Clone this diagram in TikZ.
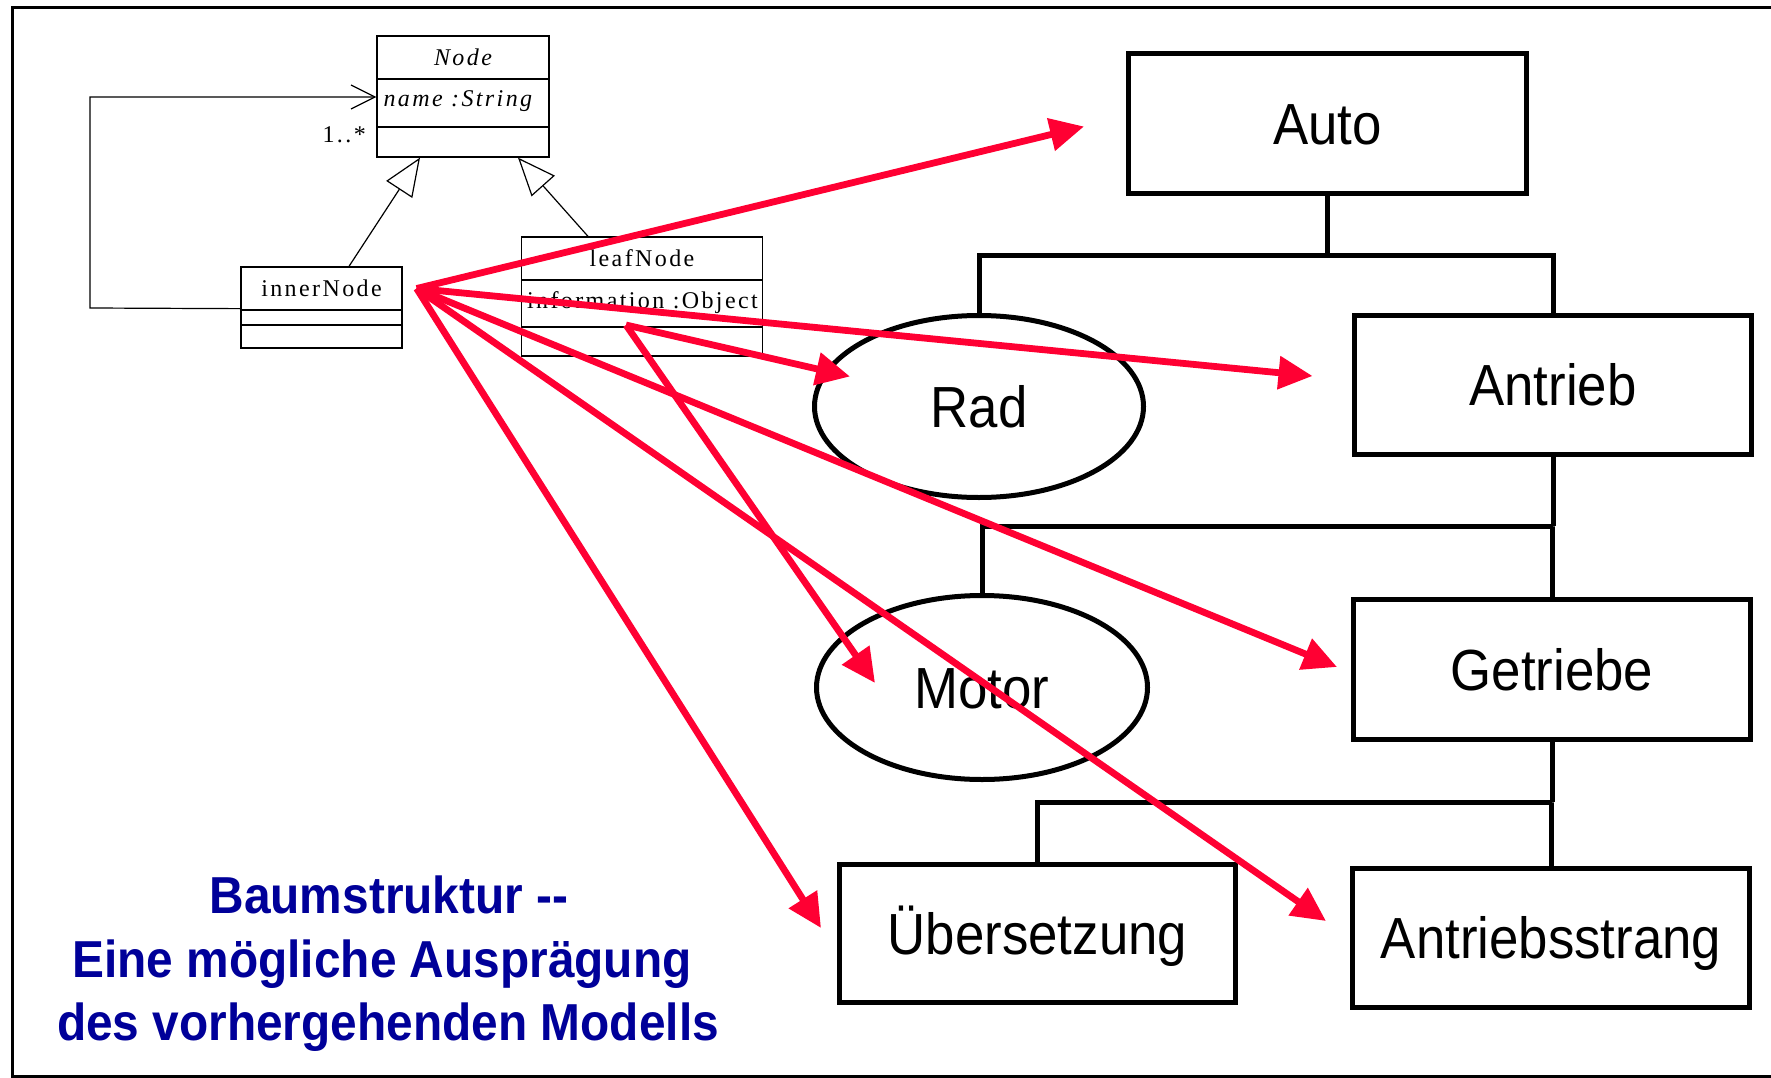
\documentclass[tikz,border=0pt]{standalone}
\usepackage{fontspec}
\setmainfont{Liberation Serif}
\newfontfamily\umlfont{Liberation Serif}[LetterSpace=10]
\newfontfamily\treefont{Liberation Sans}[FakeStretch=0.91]
\newfontfamily\titlefont{Liberation Sans}[FakeStretch=0.92]
\usetikzlibrary{arrows.meta,calc,shapes.geometric}
\definecolor{arrowred}{RGB}{255,0,51}
\definecolor{titleblue}{RGB}{0,0,153}

\begin{document}
\begin{tikzpicture}[x=1pt,y=-1pt,
  umlbox/.style={draw, line width=1.3pt, inner sep=0pt, minimum width=#1,
    font=\umlfont\fontsize{24}{28}\selectfont},
  umltext/.style={inner sep=0pt, font=\umlfont\fontsize{24}{28}\selectfont},
  genline/.style={draw, line width=1.2pt,
    -{Triangle[open, length=38pt, width=31pt, line width=1.2pt, fill=white]}},
  assocline/.style={draw, line width=1.2pt,
    -{Straight Barb[length=24pt, width=24pt, line width=1.2pt]}},
  treebox/.style={draw, line width=5pt, rectangle, inner sep=0pt,
    font=\treefont\fontsize{58}{60}\selectfont, text height=41.5pt, text depth=0pt},
  treeoval/.style={draw, line width=5pt, ellipse, inner sep=0pt,
    font=\treefont\fontsize{58}{60}\selectfont, text height=41.5pt, text depth=0pt},
  treeline/.style={draw, line width=5pt},
  redarrow/.style={draw=arrowred, line width=6.8pt,
    -{Triangle[length=34pt, width=32pt]}},
  titleline/.style={anchor=base, inner sep=0pt, text=titleblue,
    font=\titlefont\bfseries\fontsize{52}{63}\selectfont}
]
% page and frame
\fill[white] (0,0) rectangle (1771,1078);
\useasboundingbox (0,0) rectangle (1771,1078);
\draw[line width=3pt] (1771,7.5) -- (12,7.5) -- (12,1076) -- (1771,1076);

% ---------- UML class model ----------
\node[umlbox=172, minimum height=43] (node1) at (463,57.5) {\itshape Node};
\node[umlbox=172, minimum height=48] (node2) at (463,103) {};
\node[umlbox=172, minimum height=30] (node3) at (463,142) {};
\node[umltext, anchor=west] (nodeAttr) at ($(node2.west)+(7,-2)$) {\itshape name :String};

\node[umlbox=161, minimum height=43] (inner1) at (321.5,288.5) {innerNode};
\node[umlbox=161, minimum height=15] (inner2) at (321.5,317.5) {};
\node[umlbox=161, minimum height=23] (inner3) at (321.5,336.5) {};

\node[umlbox=241, minimum height=43] (leaf1) at (642,258.5) {leafNode};
\node[umlbox=241, minimum height=47] (leaf2) at (642,303.5) {};
\node[umlbox=241, minimum height=29] (leaf3) at (642,341.5) {};
\node[umltext, anchor=west] (leafAttr) at ($(leaf2.west)+(6,-1)$) {information :Object};

\node[umltext, anchor=east] (mult) at (366,135) {1..*};

% self association of innerNode to Node
\draw[assocline] ($(inner1.south west)+(0,-2)$) -- (90,308) -- (90,97)
  -- ($(node2.west)+(0,-6)$);

% generalizations
\draw[genline] ($(inner1.north)+(27.5,0)$) -- ($(node3.south)+(-43,0)$);
\draw[genline] ($(leaf1.north)+(-54,0)$) -- ($(node3.south)+(55,0)$);

% ---------- object tree ----------
\node[treebox, minimum width=398, minimum height=140] (auto) at (1327.5,123.5) {Auto};
\node[treeoval, minimum width=329, minimum height=182] (rad) at (979,406.5) {Rad};
\node[treebox, minimum width=397, minimum height=139] (antrieb) at (1553,385) {Antrieb};
\node[treeoval, minimum width=331, minimum height=184] (motor) at (982,687.5) {Motor};
\node[treebox, minimum width=397, minimum height=140] (getriebe) at (1552,669.5) {Getriebe};
\node[treebox, minimum width=396, minimum height=138] (uebers) at (1037.5,933.5) {Übersetzung};
\node[treebox, minimum width=397, minimum height=139] (strang) at (1551,938) {Antriebsstrang};

\coordinate (busA) at (1327.5,255);
\coordinate (busB) at (1553,526);
\coordinate (busC) at (1552,802);
\draw[treeline] (auto.south) -- (busA);
\draw[treeline] (rad.north) |- (busA) -| (antrieb.north);
\draw[treeline] (antrieb.south) -- (busB);
\draw[treeline] (motor.north) |- (busB) -| (getriebe.north);
\draw[treeline] (getriebe.south) -- (busC);
\draw[treeline] (uebers.north) |- (busC) -| (strang.north);

% ---------- instance links ----------
\coordinate (srcI) at ($(inner1.east)+(14,0)$);
\coordinate (srcL) at (626,325);
\coordinate (toAuto) at (1084,126.5);
\coordinate (toAntrieb) at (1312.5,376);
\coordinate (toRad) at (850,376.5);
\coordinate (toMotor) at (875,683);
\coordinate (toGetriebe) at (1337,667);
\coordinate (toStrang) at (1326,921);
\coordinate (toUebers) at (821,928);

\draw[redarrow] (srcI) -- (toAuto);
\draw[redarrow] (srcI) -- (toAntrieb);
\draw[redarrow] (srcI) -- (toGetriebe);
\draw[redarrow] (srcI) -- (toStrang);
\draw[redarrow] (srcI) -- (toUebers);
\draw[redarrow] (srcL) -- (toRad);
\draw[redarrow] (srcL) -- (toMotor);

% ---------- caption ----------
\node[titleline] (title1) at (389,913) {Baumstruktur -{}-};
\node[titleline] (title2) at (382,977) {Eine mögliche Ausprägung};
\node[titleline] (title3) at (388,1040) {des vorhergehenden Modells};
\end{tikzpicture}
\end{document}
